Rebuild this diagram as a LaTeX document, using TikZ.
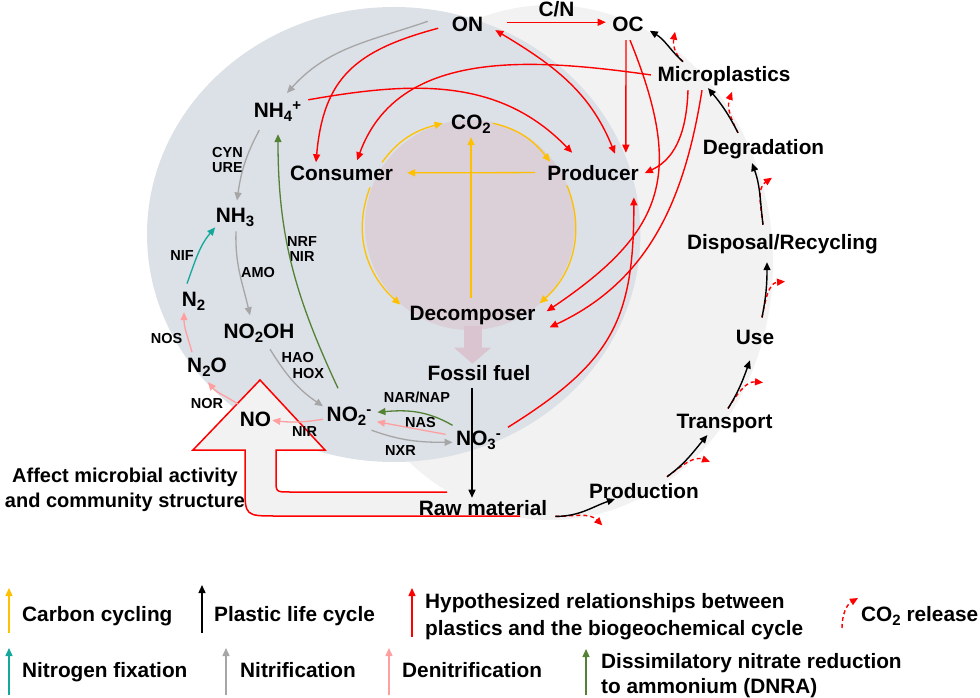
\documentclass[tikz,border=0pt]{standalone}
\usepackage{fontspec}
\setmainfont{Liberation Sans}
\usetikzlibrary{arrows.meta,positioning}
\definecolor{carbonorange}{HTML}{FFC000}
\definecolor{lifered}{HTML}{FF0000}
\definecolor{nitrgrey}{HTML}{A6A6A6}
\definecolor{fixteal}{HTML}{14A89C}
\definecolor{denitpink}{HTML}{FF9F9F}
\definecolor{dnragreen}{HTML}{548235}
\definecolor{bgblue}{HTML}{DCE0E7}
\definecolor{bglight}{HTML}{F2F2F2}
\definecolor{bgpink}{HTML}{DBCFD8}
\definecolor{arrpink}{HTML}{D9C4CF}
\newcommand{\chsub}[1]{\raisebox{-4pt}{\fontsize{15}{15}\selectfont #1}}
\newcommand{\chsup}[1]{\raisebox{6.5pt}{\fontsize{15}{15}\selectfont #1}}

\begin{document}
\begin{tikzpicture}[
  x=1pt, y=1pt,
  lbl/.style={font=\bfseries\fontsize{20.8}{24}\selectfont, inner sep=1pt, anchor=base, text=black},
  enz/.style={font=\bfseries\fontsize{14.5}{15.5}\selectfont, inner sep=1pt, align=center},
  lgd/.style={font=\bfseries\fontsize{20.8}{27}\selectfont, inner sep=1pt, align=left},
  arrtip/.style={-{Triangle[length=8pt,width=7pt]}},
  carbon/.style={arrtip, carbonorange, line width=1.3pt},
  nitr/.style={arrtip, nitrgrey, line width=1.3pt},
  fix/.style={arrtip, fixteal, line width=1.3pt},
  denit/.style={arrtip, denitpink, line width=1.3pt},
  dnra/.style={arrtip, dnragreen, line width=1.3pt},
  hyp/.style={arrtip, lifered, line width=1.4pt},
  hypbi/.style={{Triangle[length=8pt,width=7pt]}-{Triangle[length=8pt,width=7pt]}, lifered, line width=1.4pt},
  life/.style={arrtip, black, line width=1.4pt},
  co2rel/.style={arrtip, lifered, line width=1.4pt, dash pattern=on 4pt off 3pt},
  affect/.style={draw=lifered, line width=1.5pt, fill=bglight},
  pinkarr/.style={arrpink, line width=18pt, -{Triangle[length=16pt,width=36pt]}},
]
  \useasboundingbox (0,0) rectangle (980,-698);

  % backgrounds
  \fill[bglight] (550,-262.5) ellipse [x radius=223, y radius=257.5];
  \fill[bgblue] (393.7,-234.5) ellipse [x radius=246.7, y radius=227.5];
  \fill[bgpink] (470,-225) circle [radius=105];
  \draw[affect] (520,-516) -- (277,-516) .. controls (245,-516) .. (245,-486) -- (245,-450) -- (193,-450) -- (260,-380) -- (325,-450) -- (276,-450) -- (276,-480) .. controls (276,-492) .. (290,-492) -- (447,-492);

  % carbon cycle
  \node[lbl] (co2) at (471,-130) {CO\chsub{2}};
  \node[lbl] (consumer) at (341.5,-180) {Consumer};
  \node[lbl] (producer) at (593,-180) {Producer};
  \node[lbl] (decomp) at (472.5,-320.5) {Decomposer};
  \node[lbl] (fossil) at (479,-380) {Fossil fuel};

  % nitrogen cycle
  \node[lbl] (on) at (467.5,-32) {ON};
  \node[lbl] (oc) at (628,-32) {OC};
  \node[lbl] (nh4) at (277.5,-117.5) {NH\chsub{4}\chsup{+}};
  \node[lbl] (nh3) at (235,-222) {NH\chsub{3}};
  \node[lbl] (n2) at (193.5,-306.5) {N\chsub{2}};
  \node[lbl] (no2oh) at (259,-338) {NO\chsub{2}OH};
  \node[lbl] (n2o) at (207,-372) {N\chsub{2}O};
  \node[lbl] (no) at (255.5,-426) {NO};
  \node[lbl] (no2) at (349,-421) {NO\chsub{2}\chsup{-}};
  \node[lbl] (no3) at (478.5,-445) {NO\chsub{3}\chsup{-}};
  \node[enz] (cynure) at (227.5,-160) {CYN\\URE};
  \node[enz] (nif) at (182,-256) {NIF};
  \node[enz] (amo) at (258,-272.5) {AMO};
  \node[enz] (nrfnir) at (302,-249) {NRF\\NIR};
  \node[enz] (nos) at (166.5,-338.5) {NOS};
  \node[enz, align=left, anchor=west] (haohox) at (280.5,-365.5) {HAO\\\hspace*{11pt}HOX};
  \node[enz] (nor) at (207,-403.5) {NOR};
  \node[enz] (nir) at (304.5,-431.5) {NIR};
  \node[enz] (narnap) at (417,-397) {NAR/NAP};
  \node[enz] (nas) at (420.5,-422.5) {NAS};
  \node[enz] (nxr) at (400.5,-451) {NXR};

  % plastic life cycle
  \node[lbl] (micro) at (724,-82) {Microplastics};
  \node[lbl] (degrad) at (763.5,-154.5) {Degradation};
  \node[lbl] (disposal) at (782.5,-249) {Disposal/Recycling};
  \node[lbl] (use) at (755,-344) {Use};
  \node[lbl] (transport) at (724.5,-428) {Transport};
  \node[lbl] (production) at (644,-498) {Production};
  \node[lbl] (rawmat) at (483,-515) {Raw material};
  \node[lgd, align=center, font=\bfseries\fontsize{20}{25}\selectfont] (affect) at (125,-490) {Affect microbial activity\\and community structure};

  % legend
  \node[lgd, anchor=base west] (lgcarbon) at (21,-621) {Carbon cycling};
  \node[lgd, anchor=base west] (lglife) at (213,-621) {Plastic life cycle};
  \node[lgd, anchor=west] (lghyp) at (424,-616.7) {Hypothesized relationships between\\plastics and the biogeochemical cycle};
  \node[lgd, anchor=base west] (lgco2) at (860,-621) {CO\chsub{2} release};
  \node[lgd, anchor=base west] (lgfix) at (21,-677.5) {Nitrogen fixation};
  \node[lgd, anchor=base west] (lgnitr) at (239,-677.5) {Nitrification};
  \node[lgd, anchor=base west] (lgdenit) at (401,-677.5) {Denitrification};
  \node[lgd, anchor=west, font=\bfseries\fontsize{20.8}{25}\selectfont] (lgdnra) at (600,-675.6) {Dissimilatory nitrate reduction\\to ammonium (DNRA)};

  % carbon arrows
  \draw[pinkarr] (decomp.south) -- (decomp.south |- fossil.north);
  \draw[carbon] ([shift={(-12,2)}]consumer.north east) to[out=54,in=195] ([shift={(-7.5,1.5)}]co2.west);
  \draw[carbon] ([shift={(1,1.5)}]co2.east) to[out=-13,in=128] ([shift={(4,2)}]producer.north west);
  \draw[carbon] ([xshift=-11]producer.west) -- ([xshift=13]consumer.east);
  \draw[carbon] ([shift={(-1.5,7.4)}]decomp.north) -- ([yshift=-2]co2.south);
  \draw[carbon] ([shift={(28.5,-6)}]consumer.south) to[out=249,in=138] ([shift={(-8,0.4)}]decomp.north west);
  \draw[carbon] ([shift={(-26,-4)}]producer.south) to[out=-68,in=42] ([shift={(3,12.2)}]decomp.east);

  % nitrogen arrows
  \draw[nitr] ([shift={(-23,3.5)}]on.west) to[out=199,in=48] ([shift={(9.5,8)}]nh4.north);
  \draw[nitr] ([shift={(6.5,-7.5)}]nh4.south west) to[out=242,in=82] ([shift={(2,6)}]nh3.north);
  \draw[nitr] ([shift={(1,-4)}]nh3.south) to[out=268,in=103] ([shift={(-9,7)}]no2oh.north);
  \draw[nitr] ([shift={(11,-6)}]no2oh.south) to[out=302,in=146] ([shift={(-2.5,9.5)}]no2.west);
  \draw[nitr] ([shift={(-1,-4)}]no2.south east) to[out=-20,in=180] ([shift={(-2.5,-2.5)}]no3.west);
  \draw[fix] ([shift={(-6.5,7.4)}]n2.north) to[out=70,in=230] ([shift={(0.5,0)}]nh3.south west);
  \draw[denit] ([shift={(-9.5,5.5)}]no3.west) -- ([shift={(4.5,-6)}]no2.east);
  \draw[denit] ([shift={(-2.5,-3.5)}]no2.west) to[bend left=8] ([shift={(0,-1.5)}]no.east);
  \draw[denit] ([shift={(-0.5,6)}]no.north west) to[out=145,in=-50] ([shift={(1,-5)}]n2o.south);
  \draw[denit] ([shift={(-15,4)}]n2o.north) to[out=105,in=270] ([shift={(-9.5,-0.5)}]n2.south);
  \draw[dnra] ([shift={(-2.5,14.5)}]no3.west) to[out=150,in=5] ([shift={(5,3.5)}]no2.east);
  \draw[dnra] ([shift={(-11,17)}]no2.north) to[out=115,in=270] ([shift={(0.5,-11.5)}]nh4.south);

  % plastic life cycle arrows
  \draw[life] ([shift={(-7,-7)}]fossil.south) -- ([shift={(-11,1)}]rawmat.north);
  \draw[co2rel] ([xshift=7]rawmat.south east) to[out=0,in=135] ++(47,-9);
  \draw[life] ([xshift=7]rawmat.south east) to[out=0,in=199] ([shift={(27,0.4)}]production.south west);
  \draw[co2rel] ([shift={(23,5)}]production.north) to[out=36,in=160] ++(43,15);
  \draw[life] ([shift={(23,5)}]production.north) to[out=36,in=230] ([shift={(32,-1.6)}]transport.south west);
  \draw[co2rel] ([shift={(3.5,4)}]transport.north) to[out=58,in=175] ++(35,26);
  \draw[life] ([shift={(3.5,4)}]transport.north) to[out=58,in=250] ([shift={(-5,-15)}]use.south);
  \draw[co2rel] ([shift={(7,11)}]use.north) to[out=79,in=185] ++(23,36);
  \draw[life] ([shift={(7,11)}]use.north) to[out=79,in=270] ([shift={(-15.5,-7.6)}]disposal.south);
  \draw[co2rel] ([shift={(-19.5,8)}]disposal.north) to[out=97,in=214] ++(9,47);
  \draw[life] ([shift={(-19.5,8)}]disposal.north) to[out=97,in=290] ([shift={(-11.5,-3)}]degrad.south);
  \draw[co2rel] ([shift={(-25.5,5.4)}]degrad.north) to[out=117,in=250] ++(-6,41);
  \draw[life] ([shift={(-25.5,5.4)}]degrad.north) to[out=117,in=310] ([shift={(-16,-0.6)}]micro.south);
  \draw[co2rel] ([shift={(-41,4)}]micro.north) to[out=138,in=260] ++(-8,30);
  \draw[life] ([shift={(-41,4)}]micro.north) to[out=138,in=329] ([shift={(5,2.7)}]oc.south east);

  % hypothesized relationships
  \draw[hyp] ([shift={(23,2.6)}]on.east) -- node[lbl, above=4pt] (cn) {C/N} ([shift={(-5.5,2.6)}]oc.west);
  \draw[hypbi] ([shift={(11,3.3)}]on.south east) to[out=-31,in=112] ([shift={(22,10)}]producer.north);
  \draw[hyp] ([shift={(-2,-6.7)}]oc.south) -- ([shift={(-14,11)}]producer.north east);
  \draw[hyp] ([shift={(2,-6.7)}]oc.south) to[out=-68,in=34,looseness=1.3] ([shift={(10,4.2)}]decomp.east);
  \draw[hyp] ([shift={(-36,-2.6)}]micro.south) to[out=268,in=25] ([shift={(5,-0.5)}]producer.east);
  \draw[hyp] ([shift={(-22,-2.6)}]micro.south) to[out=261,in=25] ([shift={(13,-11.8)}]decomp.east);
  \draw[hyp] ([shift={(6,2)}]no3.north east) to[out=32,in=270,looseness=1.2] ([shift={(-6,-16)}]producer.south east);
  \draw[hyp] ([shift={(-12.5,-3.4)}]on.west) to[out=195,in=85,looseness=1.2] ([shift={(-25.5,2)}]consumer.north);
  \draw[hyp] ([shift={(-5.5,1.7)}]micro.west) to[out=172,in=70] ([shift={(-37,4)}]consumer.north east);
  \draw[hyp] ([shift={(6,1.2)}]nh4.north east) to[out=10,in=134] ([shift={(26,11)}]producer.north west);

  % legend arrows
  \draw[carbon] ([shift={(-12,-12)}]lgcarbon.base west) -- ++(0,45);
  \draw[life] ([shift={(-11,-12)}]lglife.base west) -- ++(0,48);
  \draw[hyp] ([shift={(-12,-20.3)}]lghyp.west) -- ++(0,49);
  \draw[co2rel] ([shift={(-18,-7)}]lgco2.base west) to[out=90,in=210] ++(16,30);
  \draw[fix] ([shift={(-12,-17.5)}]lgfix.base west) -- ++(0,47);
  \draw[nitr] ([shift={(-13,-17.5)}]lgnitr.base west) -- ++(0,47);
  \draw[denit] ([shift={(-12,-17.5)}]lgdenit.base west) -- ++(0,47);
  \draw[dnra] ([shift={(-14,-19.4)}]lgdnra.west) -- ++(0,46);
\end{tikzpicture}
\end{document}
